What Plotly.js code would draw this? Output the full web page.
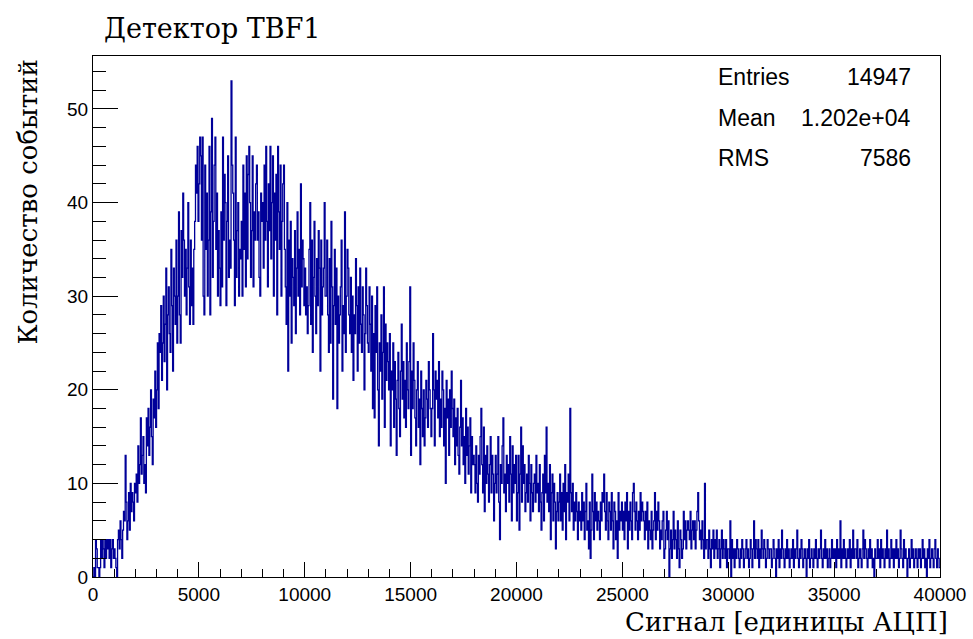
<!DOCTYPE html>
<html>
<head>
<meta charset="utf-8">
<script src="https://cdn.plot.ly/plotly-3.0.1.min.js"></script>
<style>html,body{margin:0;padding:0;background:#fff;}#chart{width:973px;height:639px;}</style>
</head>
<body>
<div id="chart"></div>
<script>
// Histogram: 1000 bins from 0 to 40000 ADC units (bin width 40)
const histLow = 0;
const histHigh = 40000;
const counts = [
0,1,0,4,3,1,1,0,1,4,2,4,3,1,4,2,4,3,4,2,4,1,3,4,2,
3,2,1,0,4,5,3,6,4,2,5,7,6,13,8,4,6,9,5,10,7,9,8,6,10,
9,11,8,14,10,12,17,11,13,15,10,12,9,17,14,18,13,16,20,15,12,19,17,22,16,
20,25,18,26,24,29,21,25,30,23,27,33,20,28,31,26,24,35,29,22,33,30,27,36,25,
30,39,28,25,37,32,41,36,30,35,28,33,40,31,27,36,29,33,27,35,38,44,41,46,38,
42,47,45,36,47,30,28,44,35,41,30,36,46,28,39,49,32,38,44,47,35,41,30,37,33,
29,39,31,47,36,43,40,29,38,45,32,36,33,53,44,41,36,29,47,32,37,40,30,35,34,
38,30,44,35,41,31,45,34,43,46,40,32,37,45,31,39,36,42,44,36,39,32,30,41,38,
40,33,44,36,46,38,31,42,37,46,34,40,45,30,41,36,43,28,46,39,35,44,30,38,42,
44,35,31,27,40,22,36,30,38,25,34,32,29,37,26,33,39,30,35,28,42,31,36,34,29,
33,28,31,26,29,35,40,27,36,24,32,38,30,26,34,29,37,33,22,36,28,31,33,40,30,
30,36,28,24,34,25,38,31,19,29,35,27,33,18,30,25,28,31,36,22,29,26,39,24,30,
35,33,28,26,32,24,30,21,28,26,34,29,22,31,25,33,27,24,31,28,20,26,33,29,25,
24,31,27,22,30,18,26,17,29,24,31,20,14,25,22,28,19,24,31,16,27,21,25,23,20,
26,14,22,20,25,16,23,19,13,21,24,18,15,22,27,19,23,17,21,16,25,20,18,23,31,
13,22,18,25,21,17,14,20,23,16,19,12,22,18,15,20,14,17,21,19,16,23,20,18,15,
18,26,20,14,22,19,21,17,23,15,19,16,22,20,14,18,10,21,17,19,13,20,16,22,18,
15,19,12,17,14,18,13,11,16,21,14,17,12,15,10,18,13,16,11,14,17,9,15,12,13,
12,9,14,10,8,13,11,15,18,12,9,16,7,13,10,14,11,8,12,15,9,13,11,6,10,
13,9,11,15,8,4,12,10,14,17,9,11,7,13,10,12,8,15,11,6,14,9,12,10,13,
6,9,13,5,11,16,8,14,10,12,7,9,11,8,13,10,6,12,9,7,10,11,8,13,9,
10,7,12,8,5,9,11,6,13,9,16,8,10,7,12,4,9,11,6,10,8,3,7,9,6,
8,11,6,9,5,10,7,12,4,9,8,11,6,18,9,7,10,5,8,6,9,7,4,8,6,
7,5,9,6,8,4,7,10,5,6,3,8,2,5,11,7,4,9,6,8,5,7,6,4,8,
6,9,8,11,7,5,9,6,4,8,7,5,9,6,3,8,7,4,6,2,9,5,7,6,8,
5,7,4,8,6,9,3,7,5,8,6,4,9,10,7,5,8,6,4,7,5,9,6,8,7,
6,4,7,5,8,3,6,5,4,7,3,5,6,9,4,7,5,8,6,3,5,4,6,7,2,
3,5,7,4,6,0,3,5,2,4,7,3,5,4,2,6,3,1,5,4,2,3,7,4,6,
3,5,6,5,4,7,3,5,6,4,6,3,5,7,9,6,4,5,3,6,4,2,10,3,4,
4,2,5,3,1,4,3,5,2,4,3,5,2,3,4,1,3,5,2,4,3,2,4,1,3,
3,2,6,0,4,2,3,1,3,2,4,3,2,1,3,2,4,3,1,2,3,4,2,3,1,
2,4,3,1,3,6,2,4,3,2,4,1,3,2,5,3,2,4,3,1,2,4,3,2,3,
3,1,2,4,3,2,0,3,2,4,1,3,2,5,3,2,1,3,2,4,2,3,1,2,3,
2,4,1,3,2,3,5,2,1,3,2,4,3,1,2,3,2,0,3,2,4,1,2,3,2,
1,3,2,4,2,1,3,2,3,5,2,1,3,2,4,2,3,1,2,3,1,2,4,2,3,
2,3,1,4,2,3,2,6,1,3,2,4,2,3,1,2,3,2,4,1,3,2,5,2,3,
3,2,4,1,2,3,2,1,3,5,2,4,3,2,1,3,2,4,2,3,1,2,0,3,2,
2,4,2,3,1,4,2,3,2,1,3,2,5,2,3,1,2,4,2,3,1,3,2,4,2,
3,1,2,5,3,2,1,4,2,3,2,0,2,3,1,2,4,2,3,1,2,3,2,1,3,
2,3,1,2,4,2,3,1,2,0,3,2,4,1,2,3,2,1,3,4,2,1,3,2,1
];
const xTickVals = [0, 5000, 10000, 15000, 20000, 25000, 30000, 35000, 40000];
const yTickVals = [0, 10, 20, 30, 40, 50];
const statLabels = ["Entries", "Mean", "RMS"];
const statValues = ["14947", "1.202e+04", "7586"];
const titleText = "Детектор TBF1";
const xTitleText = "Сигнал [единицы АЦП]";
const yTitleText = "Количество событий";

// step outline from bin edges
const nBins = counts.length;
const bw = (histHigh - histLow) / nBins;
const xs = [], ys = [];
for (let i = 0; i < nBins; i++) { xs.push(histLow + i * bw); ys.push(counts[i]); }
xs.push(histHigh); ys.push(counts[nBins - 1]);

// pixel helpers for plot box 93..940 x 56..577
const L = 93, R = 940, T = 56, B = 577;
const px = v => (v - L) / (R - L);
const py = v => (B - v) / (B - T);

const sans = "Liberation Sans, Arial, Helvetica, sans-serif";
const serif = "DejaVu Serif, Liberation Serif, serif";

const trace = {
  x: xs, y: ys, type: "scatter", mode: "lines",
  line: {shape: "hv", color: "#000099", width: 1.3},
  hoverinfo: "skip"
};

const annotations = [];
statLabels.forEach((lab, i) => {
  const yc = [77, 118, 158][i];
  annotations.push({text: lab, xref: "paper", yref: "paper", x: px(716), y: py(yc),
    xanchor: "left", yanchor: "middle", showarrow: false, font: {family: sans, size: 23, color: "#000"}});
  annotations.push({text: statValues[i], xref: "paper", yref: "paper", x: px(913), y: py(yc),
    xanchor: "right", yanchor: "middle", showarrow: false, font: {family: sans, size: 23, color: "#000"}});
});
annotations.push({text: xTitleText, xref: "paper", yref: "paper", x: px(950), y: py(622),
  xanchor: "right", yanchor: "middle", showarrow: false, font: {family: serif, size: 26, color: "#000"}});
annotations.push({text: yTitleText, xref: "paper", yref: "paper", x: px(27), y: py(58),
  xanchor: "center", yanchor: "top", textangle: -90, showarrow: false, font: {family: serif, size: 26, color: "#000"}});

const layout = {
  width: 973, height: 639,
  margin: {l: L, r: 973 - R, t: T, b: 639 - B, pad: 0},
  paper_bgcolor: "#fff", plot_bgcolor: "#fff",
  showlegend: false,
  title: {text: titleText, font: {family: serif, size: 27, color: "#000"},
    xref: "container", yref: "container", x: 104 / 973, xanchor: "left", y: 1 - 29 / 639, yanchor: "middle"},
  xaxis: {
    range: [histLow, histHigh], tickvals: xTickVals, ticktext: xTickVals.map(String),
    ticks: "inside", ticklen: 15, tickwidth: 1, tickcolor: "#000",
    minor: {dtick: 1000, ticks: "inside", ticklen: 8, tickwidth: 1, tickcolor: "#000"},
    showline: true, linecolor: "#000", linewidth: 1, mirror: true,
    showgrid: false, zeroline: false,
    tickfont: {family: sans, size: 19, color: "#000"}
  },
  yaxis: {
    range: [0, 55.66], tickvals: yTickVals, ticktext: yTickVals.map(String),
    ticks: "inside", ticklen: 25, tickwidth: 1, tickcolor: "#000",
    minor: {dtick: 2, ticks: "inside", ticklen: 13, tickwidth: 1, tickcolor: "#000"},
    showline: true, linecolor: "#000", linewidth: 1, mirror: true,
    showgrid: false, zeroline: false,
    tickfont: {family: sans, size: 19, color: "#000"}
  },
  annotations: annotations
};

Plotly.newPlot("chart", [trace], layout, {displayModeBar: false, staticPlot: true});
</script>
</body>
</html>
